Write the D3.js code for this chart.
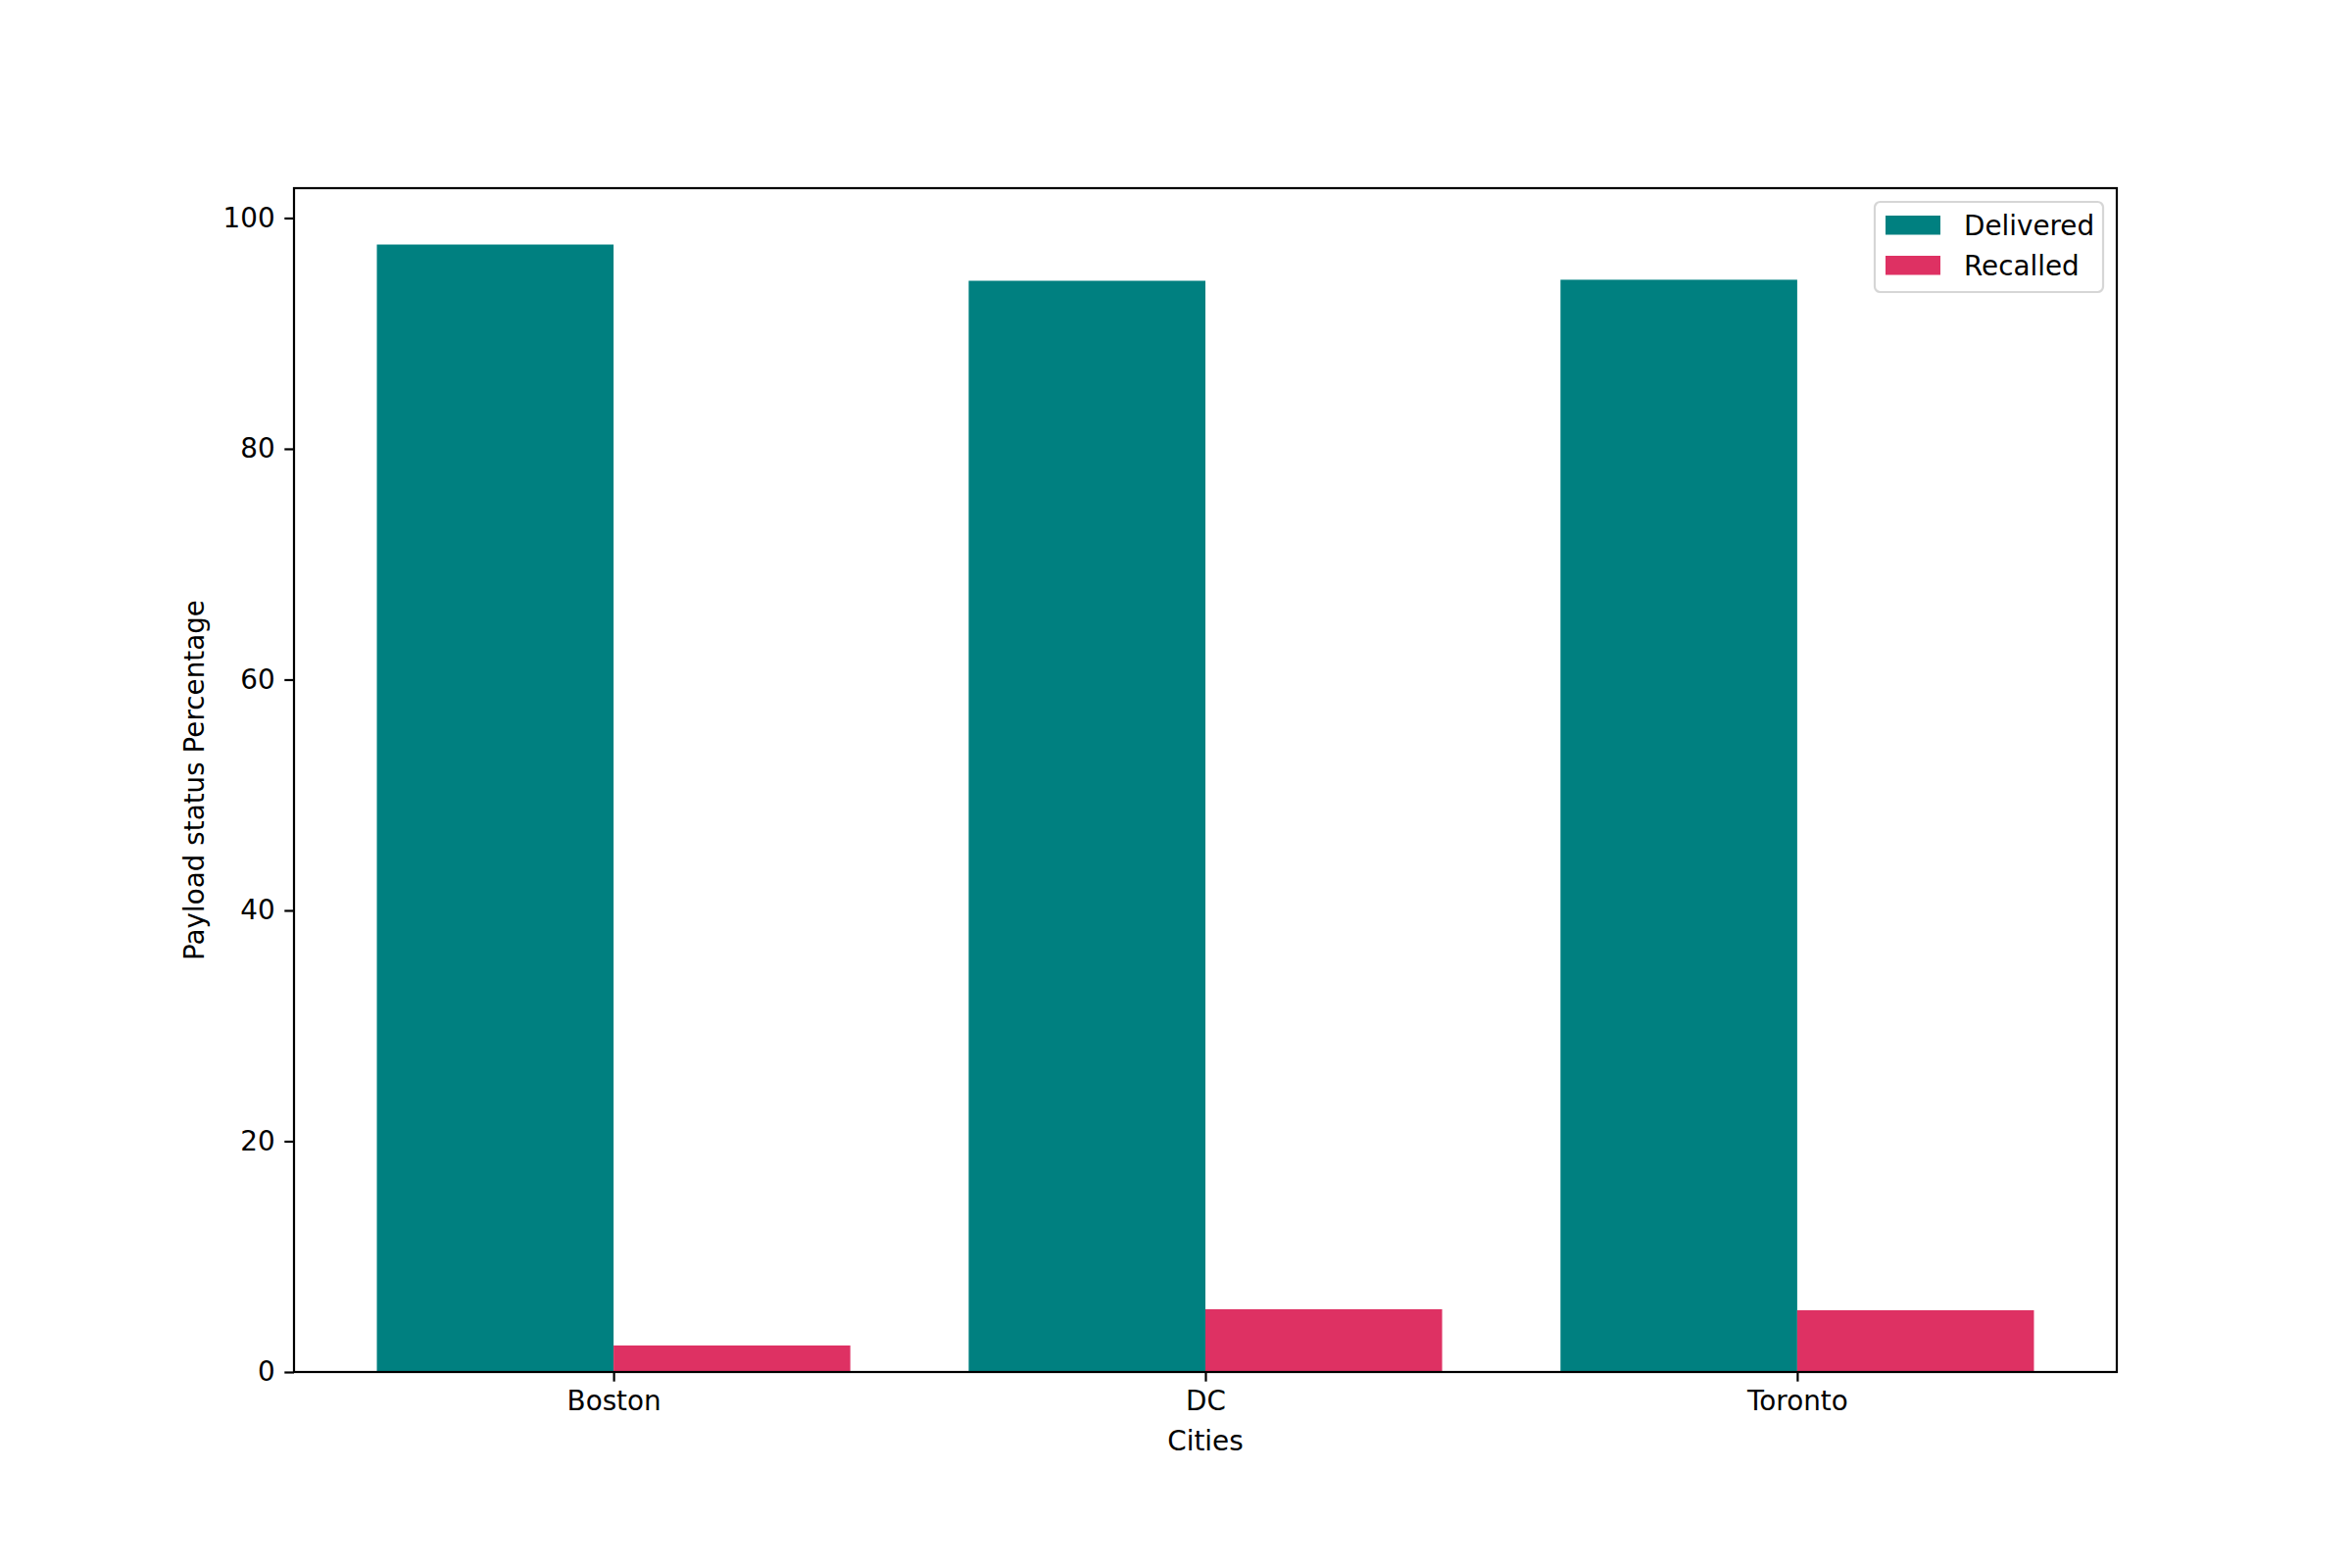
<!DOCTYPE html>
<html>
<head>
<meta charset="utf-8">
<script src="https://cdn.jsdelivr.net/npm/d3@7"></script>
<style>
  html, body { margin: 0; padding: 0; background: #ffffff; }
  svg { display: block; }
  text { font-family: "DejaVu Sans", sans-serif; fill: #000; }
</style>
</head>
<body>
<script>
const categories = ["Boston", "DC", "Toronto"];
const seriesNames = ["Delivered", "Recalled"];
const delivered = [97.7, 94.56, 94.65];
const recalled = [2.3, 5.44, 5.35];
const yTicks = [0, 20, 40, 60, 80, 100];
const colors = ["#008080", "#DE3163"];

(function () {
const W = 2400, H = 1600;
const mLeft = 300, mRight = 2160, mTop = 192, mBottom = 1400;
const fs = 27.8;

const svg = d3.select("body").append("svg").attr("width", W).attr("height", H);

const barW = 0.4;
const x = d3.scaleLinear().domain([-0.54, 2.54]).range([mLeft, mRight]);
const y = d3.scaleLinear().domain([0, 102.585]).range([mBottom, mTop]);

const series = [delivered, recalled];
const offsets = [-barW / 2, barW / 2];

series.forEach((vals, s) => {
  svg.append("g").selectAll("rect").data(vals).join("rect")
    .attr("x", (d, i) => x(i + offsets[s] - barW / 2))
    .attr("width", (d, i) => x(i + offsets[s] + barW / 2) - x(i + offsets[s] - barW / 2))
    .attr("y", d => y(d))
    .attr("height", d => y(0) - y(d))
    .attr("fill", colors[s]);
});

const xAxis = d3.axisBottom(x).tickValues(categories.map((c, i) => i))
  .tickFormat((d, i) => categories[i]).tickSize(9.7).tickPadding(9.7);
const yAxis = d3.axisLeft(y).tickValues(yTicks).tickFormat(d3.format("d"))
  .tickSize(9.7).tickPadding(9.7);

const gx = svg.append("g").attr("transform", `translate(0,${mBottom})`).call(xAxis);
const gy = svg.append("g").attr("transform", `translate(${mLeft},0)`).call(yAxis);
[gx, gy].forEach(g => {
  g.select(".domain").remove();
  g.selectAll(".tick line").attr("stroke", "#000").attr("stroke-width", 2.2);
  g.selectAll(".tick text").attr("font-size", fs).attr("font-family", "DejaVu Sans").attr("fill", "#000");
});

svg.append("rect").attr("x", mLeft).attr("y", mTop)
  .attr("width", mRight - mLeft).attr("height", mBottom - mTop)
  .attr("fill", "none").attr("stroke", "#000").attr("stroke-width", 2.2);

svg.append("text").attr("x", (mLeft + mRight) / 2).attr("y", 1480)
  .attr("text-anchor", "middle").attr("font-size", fs).text("Cities");
svg.append("text")
  .attr("transform", `translate(208,${(mTop + mBottom) / 2}) rotate(-90)`)
  .attr("text-anchor", "middle").attr("font-size", fs).text("Payload status Percentage");

const lg = svg.append("g");
lg.append("rect").attr("x", 1913).attr("y", 206).attr("width", 233).attr("height", 92)
  .attr("rx", 5.6).attr("ry", 5.6)
  .attr("fill", "#fff").attr("fill-opacity", 0.8)
  .attr("stroke", "#d6d6d6").attr("stroke-width", 2.2);
seriesNames.forEach((name, i) => {
  const yy = 220 + i * 41;
  lg.append("rect").attr("x", 1924).attr("y", yy).attr("width", 56).attr("height", 19.5)
    .attr("fill", colors[i]);
  lg.append("text").attr("x", 2004).attr("y", yy + 19.5).attr("font-size", fs).text(name);
});
})();
</script>
</body>
</html>
